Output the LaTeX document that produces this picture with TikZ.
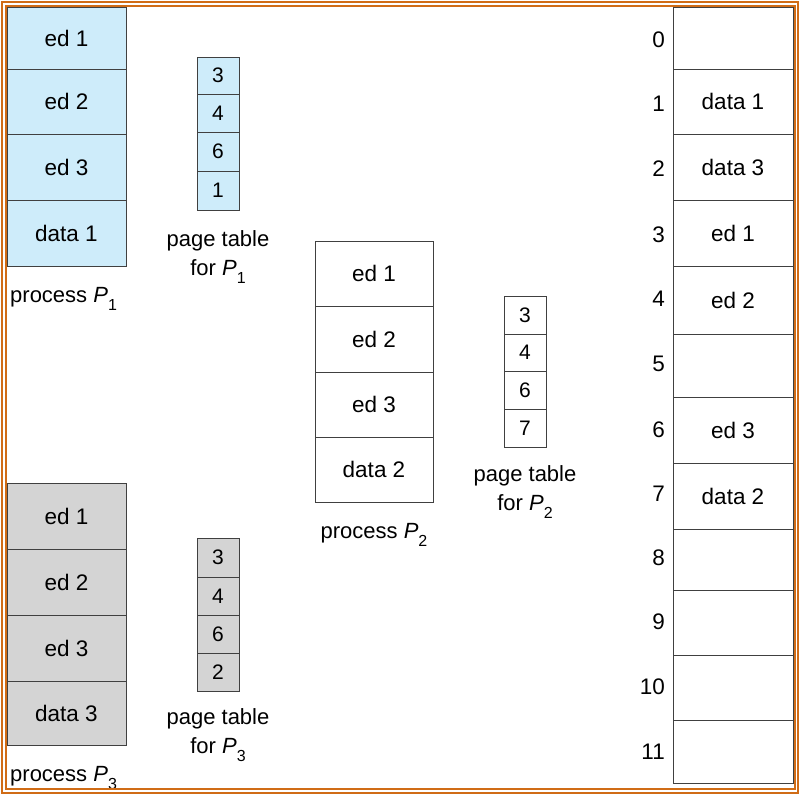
\documentclass[tikz,border=0pt]{standalone}
\usepackage{fontspec}
\setmainfont{Liberation Sans}
\usetikzlibrary{calc}

\definecolor{frameorange}{RGB}{208,108,22}
\definecolor{pageblue}{RGB}{206,236,250}
\definecolor{pagegray}{RGB}{212,212,212}

\newcommand{\procP}[1]{\textit{P}\raisebox{-8pt}{\fontsize{16}{16}\selectfont #1}}

\tikzset{
    cell/.style={draw=black!75, line width=0.8pt, inner sep=0pt,
                 font=\fontsize{22.5}{27}\selectfont},
    bigcell/.style={cell, minimum width=119pt},
    pte/.style={cell, minimum width=42pt, font=\fontsize{21}{25}\selectfont},
    frame/.style={cell, minimum width=120pt},
    caption/.style={inner sep=0pt, align=center, font=\fontsize{22}{29}\selectfont},
    frameno/.style={inner sep=0pt, anchor=east, font=\fontsize{22.5}{27}\selectfont},
}

\begin{document}
\begin{tikzpicture}[x=1pt, y=-1pt]
    \useasboundingbox (0,0) rectangle (800,795);

    % process P1
    \node[bigcell, fill=pageblue, minimum height=62pt] (p1a) at (66.5,38)   {ed 1};
    \node[bigcell, fill=pageblue, minimum height=65pt] (p1b) at (66.5,101.5) {ed 2};
    \node[bigcell, fill=pageblue, minimum height=66pt] (p1c) at (66.5,167)  {ed 3};
    \node[bigcell, fill=pageblue, minimum height=66pt] (p1d) at (66.5,233)  {data 1};
    \node[caption, anchor=west] (p1lbl) at (10,299) {process \procP{1}};

    % page table for P1
    \node[pte, fill=pageblue, minimum height=37pt] (t1a) at (218,75.5)  {3};
    \node[pte, fill=pageblue, minimum height=38pt] (t1b) at (218,113)   {4};
    \node[pte, fill=pageblue, minimum height=39pt] (t1c) at (218,151.5) {6};
    \node[pte, fill=pageblue, minimum height=39pt] (t1d) at (218,190.5) {1};
    \node[caption] (t1lbl) at (218,257) {page table\\for \procP{1}};

    % process P2
    \node[bigcell, minimum width=118pt, minimum height=65pt] (p2a) at (374,273.5) {ed 1};
    \node[bigcell, minimum width=118pt, minimum height=66pt] (p2b) at (374,339)   {ed 2};
    \node[bigcell, minimum width=118pt, minimum height=65pt] (p2c) at (374,404.5) {ed 3};
    \node[bigcell, minimum width=118pt, minimum height=65pt] (p2d) at (374,469.5) {data 2};
    \node[caption] (p2lbl) at (374,535) {process \procP{2}};

    % page table for P2
    \node[pte, minimum height=38pt] (t2a) at (525,315)   {3};
    \node[pte, minimum height=37pt] (t2b) at (525,352.5) {4};
    \node[pte, minimum height=38pt] (t2c) at (525,390)   {6};
    \node[pte, minimum height=38pt] (t2d) at (525,428)   {7};
    \node[caption] (t2lbl) at (525,492) {page table\\for \procP{2}};

    % process P3
    \node[bigcell, fill=pagegray, minimum height=66pt] (p3a) at (66.5,516) {ed 1};
    \node[bigcell, fill=pagegray, minimum height=66pt] (p3b) at (66.5,582) {ed 2};
    \node[bigcell, fill=pagegray, minimum height=66pt] (p3c) at (66.5,648) {ed 3};
    \node[bigcell, fill=pagegray, minimum height=64pt] (p3d) at (66.5,713) {data 3};
    \node[caption, anchor=west] (p3lbl) at (10,778) {process \procP{3}};

    % page table for P3
    \node[pte, fill=pagegray, minimum height=39pt] (t3a) at (218,557.5) {3};
    \node[pte, fill=pagegray, minimum height=38pt] (t3b) at (218,596)   {4};
    \node[pte, fill=pagegray, minimum height=38pt] (t3c) at (218,634)   {6};
    \node[pte, fill=pagegray, minimum height=38pt] (t3d) at (218,672)   {2};
    \node[caption] (t3lbl) at (218,735) {page table\\for \procP{3}};

    % physical memory
    \node[frame, minimum height=62pt] (f0)  at (733,38)    {};
    \node[frame, minimum height=65pt] (f1)  at (733,101.5) {data 1};
    \node[frame, minimum height=66pt] (f2)  at (733,167)   {data 3};
    \node[frame, minimum height=66pt] (f3)  at (733,233)   {ed 1};
    \node[frame, minimum height=68pt] (f4)  at (733,300)   {ed 2};
    \node[frame, minimum height=63pt] (f5)  at (733,365.5) {};
    \node[frame, minimum height=66pt] (f6)  at (733,430)   {ed 3};
    \node[frame, minimum height=66pt] (f7)  at (733,496)   {data 2};
    \node[frame, minimum height=61pt] (f8)  at (733,559.5) {};
    \node[frame, minimum height=65pt] (f9)  at (733,622.5) {};
    \node[frame, minimum height=65pt] (f10) at (733,687.5) {};
    \node[frame, minimum height=63pt] (f11) at (733,751.5) {};

    \node[frameno] (n0)  at (665,40)    {0};
    \node[frameno] (n1)  at (665,103.5) {1};
    \node[frameno] (n2)  at (665,169)   {2};
    \node[frameno] (n3)  at (665,235)   {3};
    \node[frameno] (n4)  at (665,299)   {4};
    \node[frameno] (n5)  at (665,364)   {5};
    \node[frameno] (n6)  at (665,430)   {6};
    \node[frameno] (n7)  at (665,494)   {7};
    \node[frameno] (n8)  at (665,558)   {8};
    \node[frameno] (n9)  at (665,622)   {9};
    \node[frameno] (n10) at (665,687)   {10};
    \node[frameno] (n11) at (665,752)   {11};

    % double orange frame
    \draw[frameorange, line width=2pt] (1.5,1.5) rectangle (798,793);
    \draw[frameorange, line width=2pt] (5.8,5.8) rectangle (794.5,788.5);
\end{tikzpicture}
\end{document}
